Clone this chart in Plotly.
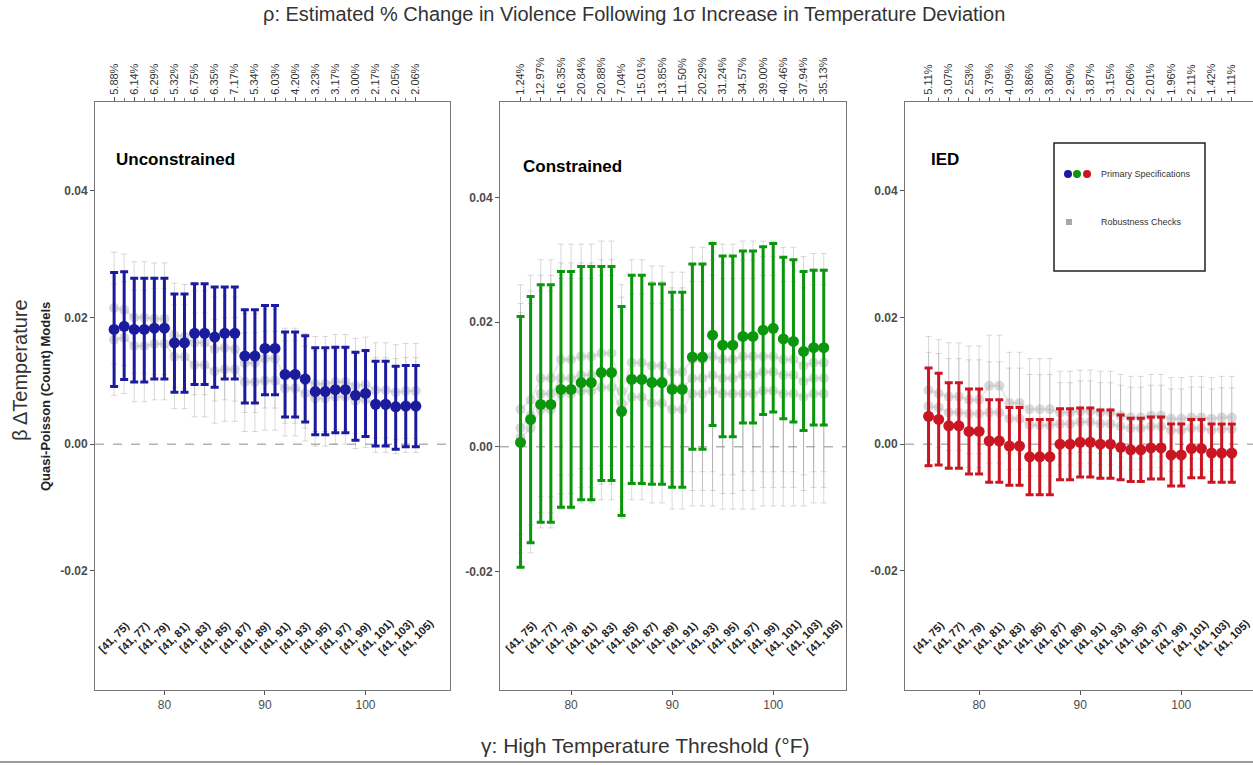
import plotly.graph_objects as go

# ---------------------------------------------------------------- data
thresholds = [75, 76, 77, 78, 79, 80, 81, 82, 83, 84, 85, 86, 87, 88, 89, 90,
              91, 92, 93, 94, 95, 96, 97, 98, 99, 100, 101, 102, 103, 104, 105]
label_thresholds = [75, 77, 79, 81, 83, 85, 87, 89, 91, 93, 95, 97, 99, 101, 103, 105]
bin_labels = ["[41, 75)", "[41, 77)", "[41, 79)", "[41, 81)", "[41, 83)", "[41, 85)",
              "[41, 87)", "[41, 89)", "[41, 91)", "[41, 93)", "[41, 95)", "[41, 97)",
              "[41, 99)", "[41, 101)", "[41, 103)", "[41, 105)"]

# Unconstrained model: primary estimate and 95% interval
unc_est = [0.0181, 0.0186, 0.0181, 0.0181, 0.0183, 0.0183, 0.0160, 0.0160, 0.0175, 0.0175,
           0.0169, 0.0175, 0.0175, 0.0139, 0.0139, 0.0151, 0.0151, 0.0110, 0.0110, 0.0103,
           0.0083, 0.0083, 0.0086, 0.0086, 0.0077, 0.0080, 0.0063, 0.0063, 0.0059, 0.0060, 0.0060]
unc_lo = [0.0091, 0.0102, 0.0098, 0.0098, 0.0103, 0.0103, 0.0082, 0.0082, 0.0094, 0.0094,
          0.0090, 0.0103, 0.0103, 0.0065, 0.0065, 0.0078, 0.0078, 0.0043, 0.0043, 0.0035,
          0.0015, 0.0015, 0.0018, 0.0018, 0.0006, 0.0012, -0.0003, -0.0003, -0.0008, -0.0004, -0.0004]
unc_hi = [0.0271, 0.0272, 0.0262, 0.0262, 0.0262, 0.0262, 0.0237, 0.0237, 0.0253, 0.0253,
          0.0248, 0.0248, 0.0248, 0.0212, 0.0212, 0.0219, 0.0219, 0.0177, 0.0177, 0.0171,
          0.0152, 0.0152, 0.0153, 0.0153, 0.0145, 0.0148, 0.0131, 0.0131, 0.0123, 0.0124, 0.0124]

# Constrained model
con_est = [0.0007, 0.0044, 0.0068, 0.0068, 0.0092, 0.0092, 0.0103, 0.0103, 0.0119, 0.0119,
           0.0057, 0.0108, 0.0108, 0.0103, 0.0103, 0.0092, 0.0092, 0.0144, 0.0144, 0.0179,
           0.0163, 0.0163, 0.0177, 0.0177, 0.0187, 0.0190, 0.0173, 0.0169, 0.0153, 0.0159, 0.0159]
con_lo = [-0.0193, -0.0154, -0.0121, -0.0121, -0.0097, -0.0097, -0.0085, -0.0085, -0.0054, -0.0054,
          -0.0110, -0.0059, -0.0059, -0.0060, -0.0060, -0.0065, -0.0065, -0.0004, -0.0004, 0.0034,
          0.0016, 0.0016, 0.0038, 0.0038, 0.0052, 0.0056, 0.0045, 0.0040, 0.0026, 0.0035, 0.0035]
con_hi = [0.0209, 0.0241, 0.0260, 0.0260, 0.0281, 0.0281, 0.0289, 0.0289, 0.0289, 0.0289,
          0.0225, 0.0275, 0.0275, 0.0261, 0.0261, 0.0248, 0.0248, 0.0293, 0.0293, 0.0326,
          0.0306, 0.0306, 0.0314, 0.0314, 0.0321, 0.0326, 0.0304, 0.0300, 0.0281, 0.0283, 0.0283]

# IED model
ied_est = [0.0044, 0.0039, 0.0029, 0.0029, 0.0020, 0.0020, 0.0005, 0.0005, -0.0003, -0.0003,
           -0.0020, -0.0020, -0.0020, 0.0000, 0.0000, 0.0003, 0.0003, 0.0000, 0.0000, -0.0005,
           -0.0009, -0.0009, -0.0006, -0.0006, -0.0017, -0.0017, -0.0007, -0.0007, -0.0014, -0.0014, -0.0014]
ied_lo = [-0.0034, -0.0033, -0.0038, -0.0038, -0.0047, -0.0047, -0.0060, -0.0060, -0.0065, -0.0065,
          -0.0080, -0.0080, -0.0080, -0.0056, -0.0056, -0.0052, -0.0052, -0.0054, -0.0054, -0.0056,
          -0.0059, -0.0059, -0.0055, -0.0055, -0.0066, -0.0066, -0.0053, -0.0053, -0.0060, -0.0060, -0.0060]
ied_hi = [0.0120, 0.0112, 0.0097, 0.0097, 0.0087, 0.0087, 0.0070, 0.0070, 0.0058, 0.0058,
          0.0039, 0.0039, 0.0039, 0.0056, 0.0056, 0.0057, 0.0057, 0.0054, 0.0054, 0.0046,
          0.0041, 0.0041, 0.0043, 0.0043, 0.0032, 0.0032, 0.0039, 0.0039, 0.0032, 0.0032, 0.0032]

# Robustness checks (alternative specifications) and their interval half-widths
unc_rob = [
    [0.0215, 0.0212, 0.0200, 0.0200, 0.0198, 0.0198, 0.0172, 0.0170, 0.0160, 0.0160,
     0.0150, 0.0152, 0.0150, 0.0128, 0.0128, 0.0135, 0.0135, 0.0108, 0.0108, 0.0100,
     0.0095, 0.0095, 0.0098, 0.0098, 0.0092, 0.0094, 0.0085, 0.0085, 0.0082, 0.0084, 0.0084],
    [0.0165, 0.0168, 0.0155, 0.0155, 0.0158, 0.0158, 0.0138, 0.0138, 0.0125, 0.0125,
     0.0115, 0.0118, 0.0118, 0.0098, 0.0098, 0.0100, 0.0100, 0.0088, 0.0088, 0.0080,
     0.0072, 0.0072, 0.0075, 0.0075, 0.0068, 0.0070, 0.0062, 0.0062, 0.0060, 0.0062, 0.0062],
]
unc_rob_hw = [0.0088, 0.0088, 0.0088, 0.0088, 0.0088, 0.0088, 0.0082, 0.0082, 0.0082, 0.0082,
              0.0082, 0.0082, 0.0082, 0.0078, 0.0078, 0.0078, 0.0078, 0.0075, 0.0075, 0.0075,
              0.0075, 0.0075, 0.0075, 0.0075, 0.0075, 0.0075, 0.0075, 0.0075, 0.0075, 0.0075, 0.0075]

con_rob = [
    [0.0060, 0.0075, 0.0110, 0.0110, 0.0140, 0.0140, 0.0145, 0.0145, 0.0150, 0.0150,
     0.0090, 0.0135, 0.0135, 0.0130, 0.0130, 0.0120, 0.0120, 0.0140, 0.0140, 0.0145,
     0.0140, 0.0140, 0.0145, 0.0145, 0.0145, 0.0145, 0.0140, 0.0140, 0.0130, 0.0135, 0.0135],
    [0.0030, 0.0050, 0.0085, 0.0085, 0.0110, 0.0110, 0.0115, 0.0115, 0.0120, 0.0120,
     0.0070, 0.0110, 0.0110, 0.0105, 0.0105, 0.0095, 0.0095, 0.0110, 0.0110, 0.0115,
     0.0110, 0.0110, 0.0115, 0.0115, 0.0120, 0.0120, 0.0115, 0.0115, 0.0105, 0.0110, 0.0110],
    [0.0015, 0.0030, 0.0060, 0.0060, 0.0085, 0.0085, 0.0090, 0.0090, 0.0095, 0.0095,
     0.0055, 0.0080, 0.0080, 0.0070, 0.0070, 0.0060, 0.0060, 0.0085, 0.0085, 0.0090,
     0.0085, 0.0085, 0.0085, 0.0085, 0.0090, 0.0090, 0.0085, 0.0085, 0.0080, 0.0085, 0.0085],
]
con_rob_hw = [0.0200, 0.0200, 0.0190, 0.0190, 0.0185, 0.0185, 0.0180, 0.0180, 0.0180, 0.0180,
              0.0170, 0.0165, 0.0165, 0.0160, 0.0160, 0.0160, 0.0160, 0.0180, 0.0180, 0.0185,
              0.0185, 0.0185, 0.0185, 0.0185, 0.0185, 0.0185, 0.0180, 0.0180, 0.0175, 0.0175, 0.0175]

ied_rob = [
    [0.0085, 0.0080, 0.0075, 0.0075, 0.0070, 0.0070, 0.0092, 0.0092, 0.0065, 0.0065,
     0.0055, 0.0055, 0.0055, 0.0050, 0.0050, 0.0052, 0.0052, 0.0050, 0.0050, 0.0045,
     0.0042, 0.0042, 0.0045, 0.0045, 0.0040, 0.0040, 0.0042, 0.0042, 0.0040, 0.0042, 0.0042],
    [0.0060, 0.0058, 0.0050, 0.0050, 0.0048, 0.0048, 0.0050, 0.0050, 0.0040, 0.0040,
     0.0030, 0.0030, 0.0030, 0.0032, 0.0032, 0.0035, 0.0035, 0.0032, 0.0032, 0.0028,
     0.0025, 0.0025, 0.0028, 0.0028, 0.0022, 0.0022, 0.0025, 0.0025, 0.0022, 0.0024, 0.0024],
]
ied_rob_hw = [0.0085, 0.0085, 0.0085, 0.0085, 0.0085, 0.0085, 0.0080, 0.0080, 0.0080, 0.0080,
              0.0080, 0.0080, 0.0080, 0.0065, 0.0065, 0.0065, 0.0065, 0.0065, 0.0065, 0.0065,
              0.0065, 0.0065, 0.0065, 0.0065, 0.0065, 0.0065, 0.0065, 0.0065, 0.0065, 0.0065, 0.0065]

# rho: estimated % change in violence per 1 sd increase in temperature deviation
unc_rho = ["5.88%", "6.14%", "6.29%", "5.32%", "6.75%", "6.35%", "7.17%", "5.34%",
           "6.03%", "4.20%", "3.23%", "3.17%", "3.00%", "2.17%", "2.05%", "2.06%"]
con_rho = ["1.24%", "12.97%", "16.35%", "20.84%", "20.88%", "7.04%", "15.01%", "13.85%",
           "11.50%", "20.29%", "31.24%", "34.57%", "39.00%", "40.46%", "37.94%", "35.13%"]
ied_rho = ["5.11%", "3.07%", "2.53%", "3.79%", "4.09%", "3.86%", "3.80%", "2.90%",
           "3.87%", "3.15%", "2.06%", "2.01%", "1.96%", "2.11%", "1.42%", "1.11%"]

panel_titles = ["Unconstrained", "Constrained", "IED"]
y_ticks = [-0.02, 0.0, 0.02, 0.04]
y_tick_text = ["-0.02", "0.00", "0.02", "0.04"]
x_ticks = [80, 90, 100]

# ---------------------------------------------------------------- layout geometry
W, H = 1253, 765
FONT = "Liberation Sans, Arial, sans-serif"
BLUE, GREEN, RED = "#1b1b9e", "#0b970b", "#c91622"

panels = [
    dict(est=unc_est, lo=unc_lo, hi=unc_hi, rob=unc_rob, hw=unc_rob_hw, rho=unc_rho,
         color=BLUE, px=(95, 450), xr=(73.1, 108.4), yr=(-0.0388, 0.0540), mirror=True),
    dict(est=con_est, lo=con_lo, hi=con_hi, rob=con_rob, hw=con_rob_hw, rho=con_rho,
         color=GREEN, px=(500, 846), xr=(72.97, 107.2), yr=(-0.0390, 0.0553), mirror=True),
    dict(est=ied_est, lo=ied_lo, hi=ied_hi, rob=ied_rob, hw=ied_rob_hw, rho=ied_rho,
         color=RED, px=(905, 1253), xr=(72.67, 107.1), yr=(-0.0388, 0.0540), mirror=False),
]
y_dom = [1 - 690 / H, 1 - 102 / H]


def px(x, y):
    """Pixel position -> paper coordinates."""
    return x / W, 1 - y / H


fig = go.Figure()
layout = dict(
    width=W, height=H, margin=dict(l=0, r=0, t=0, b=0),
    paper_bgcolor="white", plot_bgcolor="white",
    font=dict(family=FONT, color="#333333"), showlegend=False,
)
annotations, shapes = [], []

for i, p in enumerate(panels, start=1):
    xa_key = "xaxis" if i == 1 else f"xaxis{i}"
    ya_key = "yaxis" if i == 1 else f"yaxis{i}"
    xref = "x" if i == 1 else f"x{i}"
    yref = "y" if i == 1 else f"y{i}"

    # robustness specifications in grey
    for rv in p["rob"]:
        fig.add_trace(go.Scatter(
            x=thresholds, y=rv, mode="lines+markers", xaxis=xref, yaxis=yref,
            line=dict(color="rgba(150,150,160,0.22)", width=2),
            marker=dict(size=10, color="rgba(170,170,175,0.45)"),
            error_y=dict(type="data", array=p["hw"], thickness=1, width=3,
                         color="rgba(150,150,150,0.35)"),
            hoverinfo="skip"))

    # primary specification
    err_plus = [h - e for h, e in zip(p["hi"], p["est"])]
    err_minus = [e - l for e, l in zip(p["est"], p["lo"])]
    fig.add_trace(go.Scatter(
        x=thresholds, y=p["est"], mode="markers", xaxis=xref, yaxis=yref,
        marker=dict(size=11, color=p["color"]),
        error_y=dict(type="data", symmetric=False, array=err_plus, arrayminus=err_minus,
                     thickness=3, width=4, color=p["color"]),
        hoverinfo="skip"))

    # invisible trace that activates the top rho axis
    fig.add_trace(go.Scatter(x=label_thresholds, y=[None] * len(label_thresholds),
                             xaxis=f"x{i + 3}", yaxis=yref, mode="markers",
                             hoverinfo="skip", showlegend=False))

    dom = [p["px"][0] / W, p["px"][1] / W]
    layout[xa_key] = dict(
        domain=dom, range=list(p["xr"]), anchor=yref,
        tickvals=x_ticks, ticks="outside", ticklen=4, tickcolor="#555",
        tickfont=dict(size=12, color="#4d4d4d"), showline=True, linecolor="#777",
        linewidth=1, mirror=p["mirror"], showgrid=False, zeroline=False)
    layout[f"xaxis{i + 3}"] = dict(
        overlaying=xref, side="top", anchor=yref, range=list(p["xr"]),
        tickmode="array", tickvals=label_thresholds, ticktext=p["rho"], tickangle=-90,
        ticks="outside", ticklen=4, tickcolor="#555",
        minor=dict(tickvals=[t for t in thresholds if t not in label_thresholds],
                   ticks="outside", ticklen=3, tickcolor="#777"),
        tickfont=dict(size=11, color="#333"), showline=True, linecolor="#777",
        showgrid=False, zeroline=False)
    layout[ya_key] = dict(
        domain=y_dom, range=list(p["yr"]), anchor=xref,
        tickvals=y_ticks, ticktext=y_tick_text,
        ticks="outside", ticklen=4, tickcolor="#555",
        tickfont=dict(size=12, color="#4d4d4d", family=FONT, weight="bold"),
        showline=True, linecolor="#777", linewidth=1, mirror=p["mirror"],
        showgrid=False, zeroline=False)

    # zero reference line
    shapes.append(dict(type="line", xref=f"{xref} domain", yref=yref, x0=0, x1=1, y0=0, y1=0,
                       line=dict(color="#8c8c8c", width=1, dash="dash"), layer="below"))

    # panel title
    annotations.append(dict(text=f"<b>{panel_titles[i - 1]}</b>", xref=xref, yref=yref,
                            x=75, y=0.045, xanchor="left", yanchor="middle", showarrow=False,
                            font=dict(size=17, color="black", family=FONT)))

    # temperature bin labels
    for t, lab in zip(label_thresholds, bin_labels):
        annotations.append(dict(text=f"<b>{lab}</b>", xref=xref, yref=yref, x=t, y=-0.0305,
                                xanchor="center", yanchor="middle",
                                textangle=-45, showarrow=False,
                                font=dict(size=11, color="#222", family=FONT)))

# titles
tx, ty = px(634, 14)
xx, xy = px(645, 745)
b1x, b1y = px(20, 370)
b2x, b2y = px(45, 397)
annotations += [
    dict(text="ρ: Estimated % Change in Violence Following 1σ Increase in Temperature Deviation",
         xref="paper", yref="paper", x=tx, y=ty, xanchor="center", yanchor="middle",
         showarrow=False, font=dict(size=20, color="#333", family=FONT)),
    dict(text="γ: High Temperature Threshold (°F)", xref="paper", yref="paper",
         x=xx, y=xy, xanchor="center", yanchor="middle", showarrow=False,
         font=dict(size=21, color="#333", family=FONT)),
    dict(text="β ΔTemperature", xref="paper", yref="paper", x=b1x, y=b1y,
         xanchor="center", yanchor="middle", textangle=-90, showarrow=False,
         font=dict(size=20, color="#333", family=FONT)),
    dict(text="<b>Quasi-Poisson (Count) Models</b>", xref="paper", yref="paper",
         x=b2x, y=b2y, xanchor="center", yanchor="middle", textangle=-90, showarrow=False,
         font=dict(size=13, color="#222", family=FONT)),
]

# legend box drawn inside the IED panel
lx0, ly0 = px(1054, 271)
lx1, ly1 = px(1205, 143)
shapes.append(dict(type="rect", xref="paper", yref="paper", x0=lx0, x1=lx1, y0=ly0, y1=ly1,
                   line=dict(color="#222", width=1.5), fillcolor="white", layer="below"))
for cx, col in zip([1068, 1077, 1087], [BLUE, GREEN, RED]):
    ax_, ay_ = px(cx, 174)
    shapes.append(dict(type="circle", xref="paper", yref="paper",
                       xsizemode="pixel", ysizemode="pixel",
                       xanchor=ax_, yanchor=ay_, x0=-4, x1=4, y0=-4, y1=4,
                       fillcolor=col, line=dict(width=0)))
sx, sy = px(1069, 222)
shapes.append(dict(type="rect", xref="paper", yref="paper",
                   xsizemode="pixel", ysizemode="pixel",
                   xanchor=sx, yanchor=sy, x0=-3, x1=3, y0=-3, y1=3,
                   fillcolor="#a8a8a8", line=dict(width=0)))
t1x, t1y = px(1099, 174)
t2x, t2y = px(1099, 222)
annotations += [
    dict(text="Primary Specifications", xref="paper", yref="paper", x=t1x, y=t1y,
         xanchor="left", yanchor="middle", showarrow=False,
         font=dict(size=9, color="#333", family=FONT)),
    dict(text="Robustness Checks", xref="paper", yref="paper", x=t2x, y=t2y,
         xanchor="left", yanchor="middle", showarrow=False,
         font=dict(size=9, color="#333", family=FONT)),
]

# frame line along the bottom edge
_, by = px(0, 762)
shapes.append(dict(type="line", xref="paper", yref="paper", x0=0, x1=1, y0=by, y1=by,
                   line=dict(color="#9a9a9a", width=2)))

layout["annotations"] = annotations
layout["shapes"] = shapes
fig.update_layout(**layout)
fig.write_html("out.html")
